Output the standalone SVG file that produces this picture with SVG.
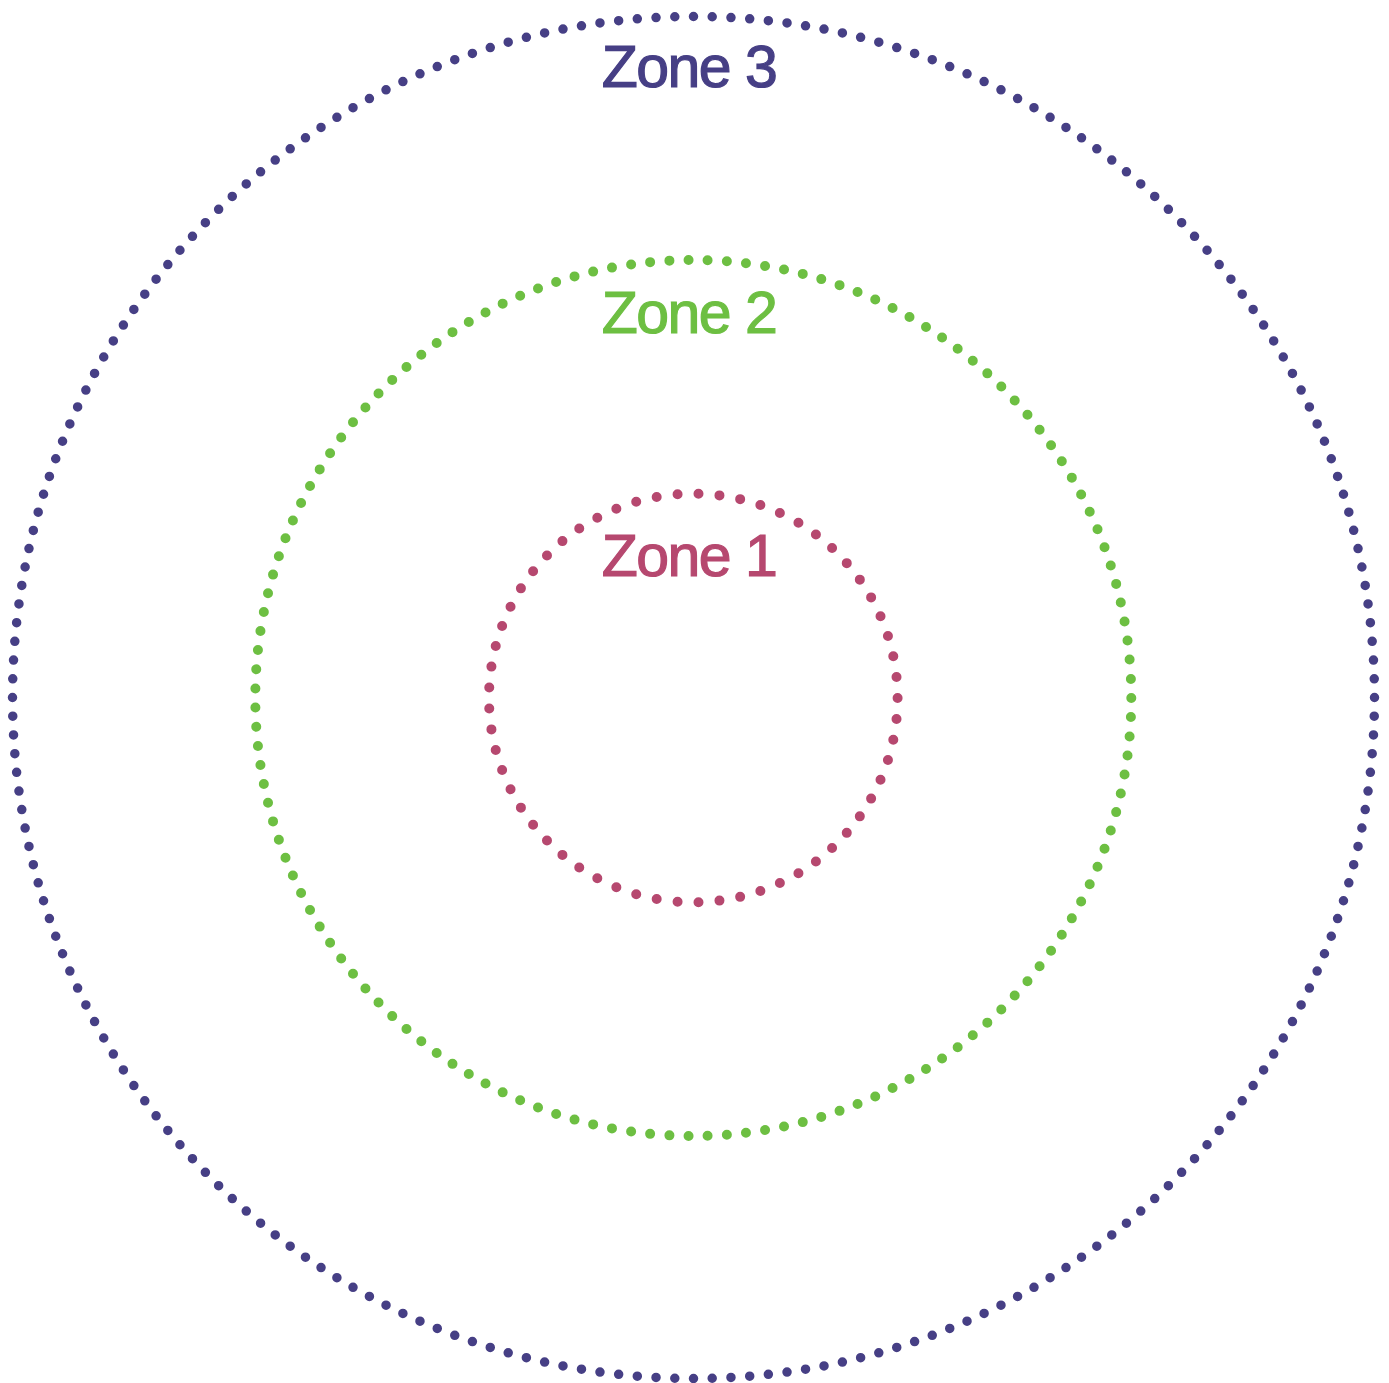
<svg xmlns="http://www.w3.org/2000/svg" width="1389" height="1383" viewBox="0 0 1389 1383">
<style>
.ring{fill:none;stroke-linecap:round;stroke-dasharray:0 1}
.lbl{font-family:"Liberation Sans",Arial,sans-serif;font-size:59px;text-anchor:middle;letter-spacing:-1.5px;stroke-width:1.2px}
</style>
<rect width="1389" height="1383" fill="#ffffff"/>
<g id="zone3">
<circle class="ring" cx="693.5" cy="697.5" r="681" pathLength="228" stroke="#463f85" stroke-width="9.5"/>
<text class="lbl" x="689" y="87" fill="#463f85" stroke="#463f85">Zone 3</text>
</g>
<g id="zone2">
<circle class="ring" cx="693.3" cy="698" r="438" pathLength="143" stroke="#6dbf42" stroke-width="10"/>
<text class="lbl" x="689" y="333" fill="#6dbf42" stroke="#6dbf42">Zone 2</text>
</g>
<g id="zone1">
<circle class="ring" cx="693.3" cy="698" r="204.3" pathLength="61" stroke="#b6486f" stroke-width="10"/>
<text class="lbl" x="689" y="576" fill="#b6486f" stroke="#b6486f">Zone 1</text>
</g>
<g id="connectors"></g>
</svg>
